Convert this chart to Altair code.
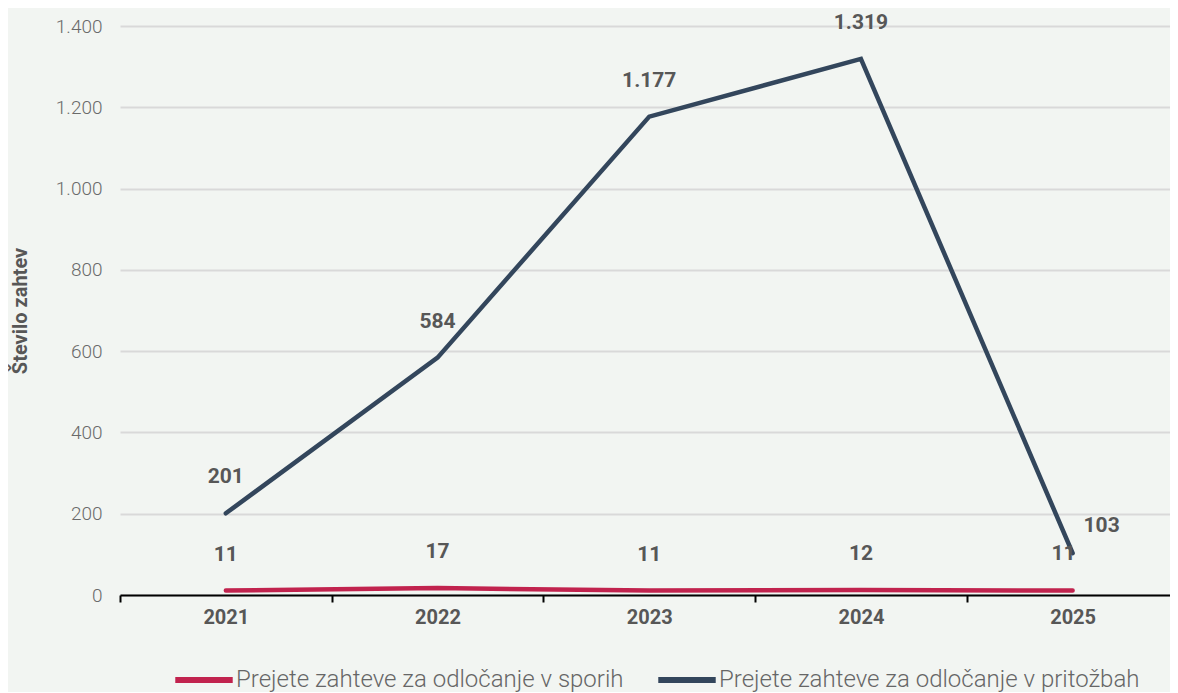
import altair as alt
import pandas as pd

years = [2021, 2022, 2023, 2024, 2025]
series_names = ["Prejete zahteve za odločanje v sporih", "Prejete zahteve za odločanje v pritožbah"]
sporih = [11, 17, 11, 12, 11]
pritozbah = [201, 584, 1177, 1319, 103]
colors = ["#c1234e", "#33465c"]
y_ticks = [0, 200, 400, 600, 800, 1000, 1200, 1400]
x_ticks = [2020.5, 2021, 2021.5, 2022, 2022.5, 2023, 2023.5, 2024, 2024.5, 2025]

rows = []
for y, v in zip(years, sporih):
    rows.append({"leto": y, "serija": series_names[0], "vrednost": v})
for y, v in zip(years, pritozbah):
    rows.append({"leto": y, "serija": series_names[1], "vrednost": v})
df = pd.DataFrame(rows)

FONT = "Roboto"
GREY = "#575757"

x_enc = alt.X(
    "leto:Q",
    scale=alt.Scale(domain=[2020.5, 2025.46], nice=False, zero=False),
    axis=alt.Axis(
        values=x_ticks,
        title=None,
        grid=False,
        labelExpr="datum.value % 1 == 0 ? format(datum.value, 'd') : ''",
        labelFlush=False,
        labelOverlap=False,
        labelFont=FONT,
        labelFontSize=20,
        labelFontWeight="bold",
        labelColor=GREY,
        labelPadding=5,
        domainColor="#000000",
        domainWidth=2,
        tickColor="#000000",
        tickWidth=2,
        tickSize=7,
        tickOpacity={"condition": {"test": "datum.value % 1 == 0", "value": 0}, "value": 1},
    ),
)
y_enc = alt.Y(
    "vrednost:Q",
    scale=alt.Scale(domain=[0, 1400], nice=False),
    axis=alt.Axis(
        values=y_ticks,
        title="Število zahtev",
        titleFont=FONT,
        titleFontSize=20,
        titleFontWeight="bold",
        titleColor=GREY,
        titlePadding=25,
        labelExpr="replace(format(datum.value, ','), ',', '.')",
        labelFont=FONT,
        labelFontSize=19,
        labelFontWeight=300,
        labelColor="#6a6a6a",
        labelPadding=18,
        domain=False,
        ticks=False,
        gridColor="#d9d9d9",
        gridWidth=2,
    ),
)
color_enc = alt.Color(
    "serija:N",
    scale=alt.Scale(domain=series_names, range=colors),
    legend=alt.Legend(
        title=None,
        orient="none",
        legendX=52,
        legendY=622,
        direction="horizontal",
        symbolType="stroke",
        symbolSize=3300,
        symbolStrokeWidth=6,
        labelFont=FONT,
        labelFontSize=24,
        labelFontWeight=300,
        labelColor="#666666",
        labelOffset=0,
        columnPadding=22,
        labelLimit=600,
    ),
)

base = alt.Chart(df)

lines = base.mark_line(strokeWidth=4.5, strokeCap="round", strokeJoin="miter").encode(
    x=x_enc, y=y_enc, color=color_enc, order="leto:Q"
)

lab = base.transform_calculate(
    oznaka="replace(format(datum.vrednost, ','), ',', '.')"
)
text_style = dict(font=FONT, fontSize=21, fontWeight="bold", color=GREY)

labels_main = lab.transform_filter("datum.leto != 2025").mark_text(dy=-36, **text_style).encode(
    x="leto:Q", y="vrednost:Q", text="oznaka:N"
)
labels_dark_last = lab.transform_filter(
    f"datum.leto == 2025 && datum.serija == '{series_names[1]}'"
).mark_text(dx=29, dy=-27, **text_style).encode(x="leto:Q", y="vrednost:Q", text="oznaka:N")
labels_red_last = lab.transform_filter(
    f"datum.leto == 2025 && datum.serija == '{series_names[0]}'"
).mark_text(dx=-9, dy=-37, **text_style).encode(x="leto:Q", y="vrednost:Q", text="oznaka:N")

chart = (
    alt.layer(lines, labels_main, labels_dark_last, labels_red_last)
    .properties(
        width=1050,
        height=569,
        background="#f2f5f2",
        padding={"top": 3, "left": 2, "right": 0, "bottom": 0},
    )
    .configure_view(stroke=None)
)

chart.save("out.html", embed_options={"renderer": "svg", "actions": False})
